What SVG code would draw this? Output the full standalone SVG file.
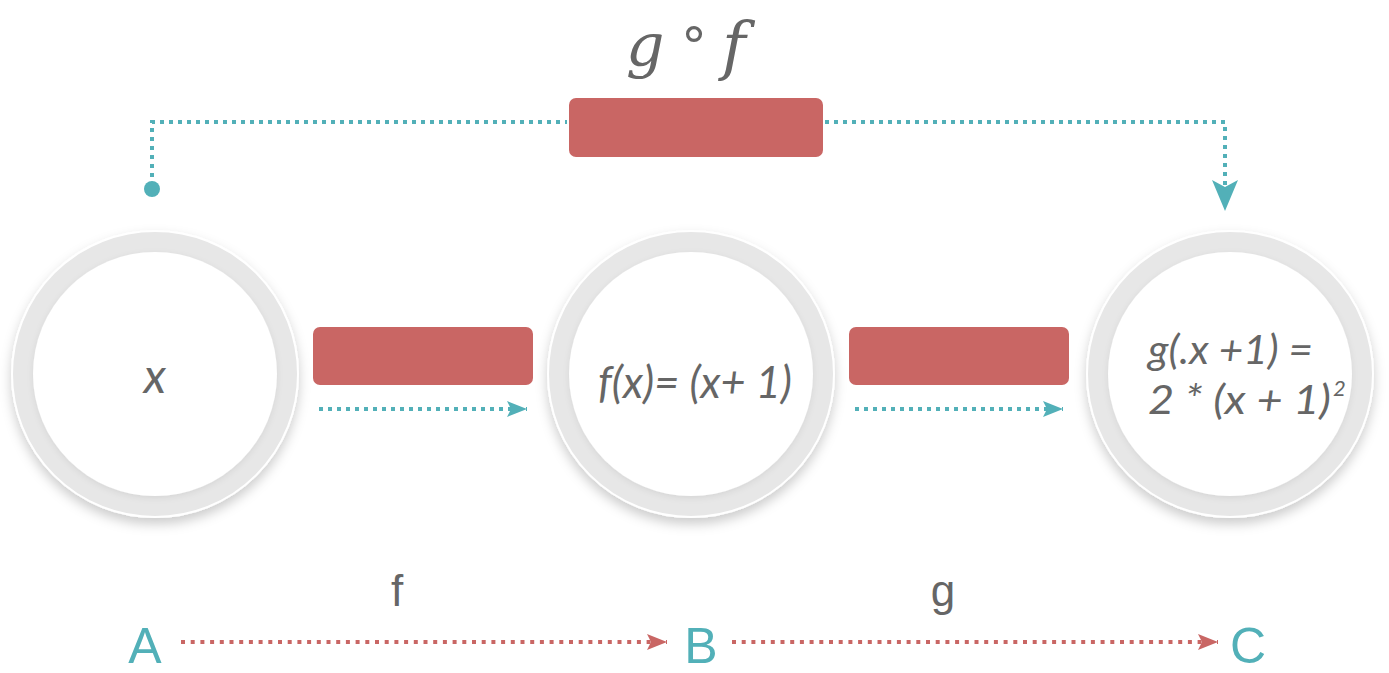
<svg xmlns="http://www.w3.org/2000/svg" width="1389" height="673" viewBox="0 0 1389 673">
<style>
.ring{fill:#e7e7e7;stroke:#ffffff;stroke-width:2}
.core{fill:#ffffff}
.bar{fill:#c96664}
.eq{font-family:Lato,"Open Sans",sans-serif;font-style:italic;fill:#666666}
.lbl{font-family:"Liberation Sans",Arial,sans-serif;fill:#666666}
.node{font-family:"Liberation Sans",Arial,sans-serif;fill:#52b0b8}
.tdot{fill:none;stroke:#52b0b8;stroke-width:4;stroke-dasharray:4 5}
.rdot{fill:none;stroke:#c96664;stroke-width:4;stroke-dasharray:4 5.7}
</style>
<defs>
<filter id="sh" x="-20%" y="-20%" width="140%" height="140%">
<feDropShadow dx="0" dy="6" stdDeviation="6" flood-color="#000" flood-opacity="0.2"/>
</filter>
<filter id="ish" x="-20%" y="-20%" width="140%" height="140%">
<feDropShadow dx="0" dy="2" stdDeviation="3" flood-color="#000" flood-opacity="0.08"/>
</filter>
<marker id="ta" markerUnits="userSpaceOnUse" markerWidth="22" markerHeight="18" refX="20" refY="8" orient="auto">
<path d="M0,0 L20,8 L0,16 L4,8 Z" fill="#52b0b8"/>
</marker>
<marker id="ra" markerUnits="userSpaceOnUse" markerWidth="22" markerHeight="18" refX="20" refY="8" orient="auto">
<path d="M0,0 L20,8 L0,16 L4,8 Z" fill="#c96664"/>
</marker>
</defs>

<g id="node-x">
<circle class="ring" cx="155" cy="374" r="143" filter="url(#sh)"/>
<circle class="core" cx="155" cy="374" r="122" filter="url(#ish)"/>
<text class="eq" x="155" y="393" font-size="48" text-anchor="middle">x</text>
</g>

<g id="node-fx">
<circle class="ring" cx="691" cy="374" r="143" filter="url(#sh)"/>
<circle class="core" cx="691" cy="374" r="122" filter="url(#ish)"/>
<text class="eq" x="598" y="398" font-size="44" textLength="194" lengthAdjust="spacingAndGlyphs">f(x)= (x+ 1)</text>
</g>

<g id="node-gx">
<circle class="ring" cx="1230" cy="374" r="143" filter="url(#sh)"/>
<circle class="core" cx="1230" cy="374" r="122" filter="url(#ish)"/>
<text class="eq" x="1148" y="364" font-size="40" textLength="165" lengthAdjust="spacingAndGlyphs">g(.x +1) =</text>
<text class="eq" x="1148" y="414" font-size="40" textLength="183" lengthAdjust="spacingAndGlyphs">2 * (x + 1)</text>
<text class="eq" x="1333" y="396" font-size="22">2</text>
</g>

<g id="bar-f"><rect class="bar" x="313" y="327" width="220" height="58" rx="7"/></g>
<g id="bar-g"><rect class="bar" x="849" y="327" width="220" height="58" rx="7"/></g>
<g id="bar-gf"><rect class="bar" x="569" y="98" width="254" height="59" rx="7"/></g>

<g id="title-gf">
<text x="626" y="66" font-family="'DejaVu Serif',serif" font-style="italic" font-size="60" fill="#666666">g</text>
<text x="681" y="64" font-family="'DejaVu Sans',sans-serif" font-size="52" fill="#666666">°</text>
<text x="722" y="68" font-family="'DejaVu Serif',serif" font-style="italic" font-size="64" fill="#666666">f</text>
</g>

<g id="connectors">
<path class="tdot" d="M319,409 H527" marker-end="url(#ta)"/>
<path class="tdot" d="M855,409 H1063" marker-end="url(#ta)"/>
<path class="tdot" d="M152,186 V122 H567"/>
<circle cx="152" cy="189" r="8" fill="#52b0b8"/>
<path class="tdot" d="M825,122 H1225 V185"/>
<path d="M1212,180 L1225,187 L1238,180 L1225,211 Z" fill="#52b0b8"/>
<path class="rdot" d="M181,642 H667" marker-end="url(#ra)"/>
<path class="rdot" d="M732,642 H1218" marker-end="url(#ra)"/>
</g>

<g id="node-A"><text class="node" x="145" y="663" font-size="50" text-anchor="middle">A</text></g>
<g id="node-B"><text class="node" x="701" y="663" font-size="50" text-anchor="middle">B</text></g>
<g id="node-C"><text class="node" x="1248" y="663" font-size="50" text-anchor="middle">C</text></g>
<text class="lbl" x="397" y="606" font-size="44" text-anchor="middle">f</text>
<text class="lbl" x="943" y="606" font-size="44" text-anchor="middle">g</text>
</svg>
